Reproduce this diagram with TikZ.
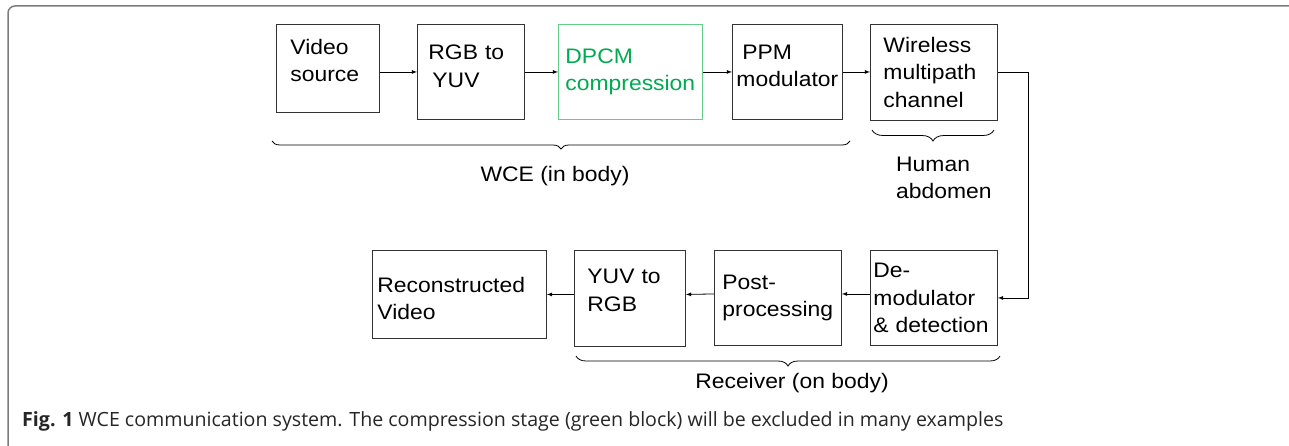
\documentclass[tikz,border=0pt]{standalone}
\usepackage{fontspec}
\setmainfont{Liberation Sans}
\newfontfamily\blkfont[FakeStretch=1.09]{Liberation Sans}
\newfontfamily\capfont{Open Sans}
\usetikzlibrary{calc,arrows,decorations.pathreplacing}
\definecolor{dpcmgreen}{RGB}{0,170,80}
\definecolor{dpcmline}{RGB}{100,205,140}
\definecolor{framegray}{RGB}{125,125,125}
\tikzset{
	blk/.style={draw=black!80, line width=0.9pt, anchor=north west, align=left, inner ysep=2pt, font=\blkfont\fontsize{21}{27.5}\selectfont},
	lbl/.style={align=left, inner sep=0pt, font=\blkfont\fontsize{21}{27.5}\selectfont},
	arr/.style={->, >=latex, line width=0.8pt},
	brc/.style={decorate, decoration={brace, mirror, amplitude=#1}, line width=0.8pt}
}
\newcommand{\lift}[1]{\rule[-#1]{0pt}{#1}}
\begin{document}
\begin{tikzpicture}[x=1pt,y=-1pt]
	\useasboundingbox (0,0) rectangle (1289,446);
	\draw[framegray, line width=1.5pt, rounded corners=7pt] (8,446)--(8,6)--(1289,6);
	\node[blk, text width=75pt, inner xsep=14pt, minimum height=88pt] (vid) at (276,24) {Video\\source\lift{16pt}};
	\node[blk, text width=85pt, inner xsep=11pt, minimum height=95pt] (rgb) at (417,24) {RGB to\\\hspace*{4pt}YUV\lift{12pt}};
	\node[blk, text width=130pt, inner xsep=7pt, minimum height=95pt, draw=dpcmline, text=dpcmgreen] (dpcm) at (558,24) {DPCM\\compression};
	\node[blk, text width=102pt, inner xsep=4pt, minimum height=95pt] (ppm) at (732,24) {\hspace*{6pt}PPM\\modulator\lift{12pt}};
	\node[blk, text width=101pt, inner xsep=13pt, minimum height=96pt] (wl) at (870,24) {Wireless\\multipath\\channel};
	\node[blk, text width=164pt, inner xsep=5pt, minimum height=88pt] (rec) at (372,250) {\rule{0pt}{23pt}Reconstructed\\Video};
	\node[blk, text width=85pt, inner xsep=13pt, minimum height=96pt] (y2r) at (574,250) {YUV to\\RGB\lift{16pt}};
	\node[blk, text width=111pt, inner xsep=8pt, minimum height=95pt] (post) at (714,250) {Post-\\processing};
	\node[blk, text width=121pt, inner xsep=3pt, minimum height=95pt] (dem) at (870,250) {De-\\modulator\\\& detection};
	\draw[arr] (vid.east|-rgb.west)--(rgb.west);
	\draw[arr] (rgb.east)--(dpcm.west);
	\draw[arr] (dpcm.east)--(ppm.west);
	\draw[arr] (ppm.east)--(wl.west|-ppm.east);
	\draw[arr] (wl.east)--++(30,0)|-(dem.east);
	\draw[arr] ([yshift=4pt]dem.west)--([yshift=4pt]post.east);
	\draw[arr] ([yshift=4pt]post.west)--([yshift=4pt]y2r.east);
	\draw[arr] (y2r.west|-rec.east)--(rec.east);
	\draw[brc=8pt] (272,141)--(850,141);
	\draw[brc=11pt] (872,130)--(994,130);
	\draw[brc=10pt] (576,356)--(1000,356);
	\node[lbl] (wce) at (555,176) {WCE (in body)};
	\node[lbl, anchor=west] (hum) at (896,178) {Human\\abdomen};
	\node[lbl] (rcv) at (792,383) {Receiver (on body)};
	\node[anchor=west, inner sep=0pt, text=black!85, font=\capfont\fontsize{19.6}{22}\selectfont] (cap) at (22,421) {\textbf{Fig. 1} WCE communication system. The compression stage (green block) will be excluded in many examples};
\end{tikzpicture}
\end{document}
